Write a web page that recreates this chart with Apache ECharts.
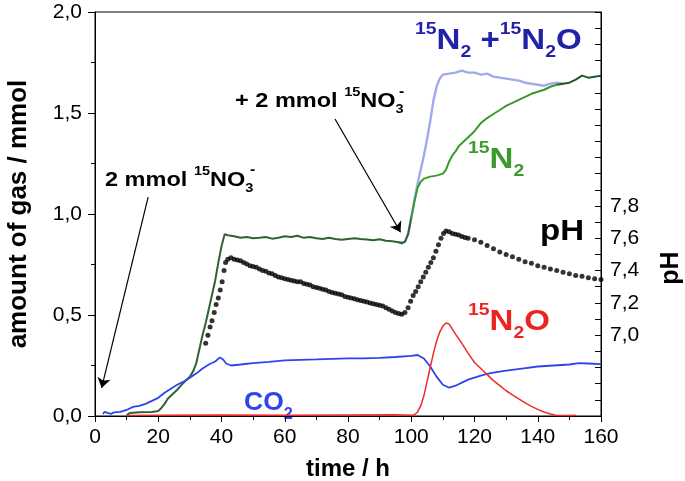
<!DOCTYPE html>
<html>
<head>
<meta charset="utf-8">
<script src="https://cdn.jsdelivr.net/npm/echarts@6/dist/echarts.min.js"></script>
<style>
  html, body { margin: 0; padding: 0; background: #fff; }
  #chart { width: 685px; height: 481px; }
</style>
</head>
<body>
<div id="chart"></div>
<script>
// 15N2 (h / mmol)
const n2Time = [10, 11, 14, 18, 20, 21, 22, 23, 24, 26,
  28, 30, 31, 32, 33, 34, 35, 36, 37, 38,
  39, 40, 41, 42, 44, 46, 48, 50, 52, 54,
  56, 58, 60, 62, 64, 66, 68, 70, 72, 74,
  76, 78, 80, 82, 84, 86, 88, 90, 92, 94,
  96, 97, 98, 99, 100, 101, 102, 103, 104, 105,
  106, 108, 110, 111, 112, 113, 114, 115, 116, 118,
  120, 122, 124, 126, 128, 130, 132, 134, 136, 138,
  140, 142, 144, 146, 148, 150, 152, 154, 156, 158,
  160];
const n2Values = [0.003, 0.015, 0.018, 0.02, 0.025, 0.04, 0.06, 0.085, 0.1, 0.13,
  0.165, 0.195, 0.22, 0.26, 0.33, 0.4, 0.46, 0.53, 0.6, 0.67,
  0.76, 0.84, 0.9, 0.895, 0.89, 0.882, 0.886, 0.88, 0.882, 0.886,
  0.878, 0.882, 0.89, 0.886, 0.892, 0.882, 0.886, 0.88, 0.876, 0.882,
  0.876, 0.872, 0.876, 0.88, 0.876, 0.874, 0.87, 0.875, 0.868, 0.865,
  0.86, 0.855, 0.862, 0.9, 0.98, 1.06, 1.13, 1.16, 1.175, 1.18,
  1.185, 1.19, 1.2, 1.22, 1.26, 1.29, 1.31, 1.335, 1.35, 1.38,
  1.41, 1.45, 1.475, 1.495, 1.515, 1.535, 1.55, 1.565, 1.58, 1.595,
  1.605, 1.615, 1.63, 1.64, 1.645, 1.65, 1.665, 1.685, 1.675, 1.68,
  1.685];

// 15N2 + 15N2O
const totalTime = [96, 98, 99, 100, 101, 102, 103, 104, 105, 106,
  107, 108, 109, 110, 112, 114, 116, 118, 120, 122,
  124, 126, 128, 130, 132, 134, 136, 138, 140, 142,
  144, 146, 148];
const totalValues = [0.86, 0.862, 0.9, 0.98, 1.07, 1.15, 1.22, 1.29, 1.37, 1.46,
  1.56, 1.63, 1.67, 1.69, 1.695, 1.70, 1.71, 1.70, 1.70, 1.69,
  1.695, 1.68, 1.675, 1.67, 1.665, 1.66, 1.65, 1.645, 1.64, 1.635,
  1.645, 1.65, 1.645];

// CO2
const co2Time = [2.5, 3, 4, 5, 6, 8, 10, 12, 14, 16,
  18, 20, 22, 24, 26, 28, 30, 32, 34, 36,
  38, 39.5, 40.5, 41.5, 43, 46, 50, 55, 60, 65,
  70, 75, 80, 85, 90, 95, 100, 102, 104, 106,
  108, 110, 112, 114, 116, 118, 120, 122, 124, 126,
  128, 130, 135, 140, 145, 150, 153, 156, 160];
const co2Values = [0.01, 0.02, 0.015, 0.01, 0.018, 0.02, 0.03, 0.045, 0.05, 0.06,
  0.075, 0.09, 0.115, 0.135, 0.155, 0.17, 0.19, 0.21, 0.235, 0.255,
  0.27, 0.29, 0.28, 0.26, 0.25, 0.255, 0.262, 0.268, 0.275, 0.278,
  0.28, 0.283, 0.285, 0.285, 0.288, 0.292, 0.298, 0.302, 0.285, 0.245,
  0.195, 0.155, 0.14, 0.15, 0.165, 0.18, 0.19, 0.2, 0.208, 0.215,
  0.22, 0.225, 0.235, 0.245, 0.25, 0.255, 0.262, 0.26, 0.257];

// 15N2O
const n2oTime = [10, 20, 40, 60, 80, 95, 100, 101, 102, 103,
  104, 105, 106, 107, 108, 109, 110, 111, 112, 113,
  114, 116, 118, 120, 122, 124, 126, 128, 130, 132,
  134, 136, 138, 140, 142, 144, 146, 150, 152];
const n2oValues = [0.003, 0.004, 0.005, 0.004, 0.005, 0.006, 0.004, 0.006, 0.02, 0.05,
  0.1, 0.17, 0.24, 0.31, 0.37, 0.415, 0.445, 0.46, 0.455, 0.43,
  0.405, 0.36, 0.31, 0.265, 0.235, 0.205, 0.175, 0.15, 0.125, 0.105,
  0.085, 0.065, 0.048, 0.033, 0.02, 0.01, 0.003, 0.003, 0.004];

// pH (right axis)
const phTime = [35, 35.7, 36.4, 37, 37.7, 38.3, 39, 39.6, 40.2, 40.8,
  41.3, 42, 43, 44, 45, 46, 47, 48, 49, 50,
  51, 52, 53, 54, 55, 56, 57, 58, 59, 60,
  61, 62, 63, 64, 65, 66, 67, 68, 69, 70,
  71, 72, 73, 74, 75, 76, 77, 78, 79, 80,
  81, 82, 83, 84, 85, 86, 87, 88, 89, 90,
  91, 92, 93, 94, 95, 96, 97, 98, 99, 99.8,
  100.6, 101.4, 102.2, 103, 103.8, 104.6, 105.4, 106.2, 107, 107.8,
  108.6, 109.4, 110.2, 111, 112, 113, 114, 115, 116, 117,
  118, 120, 122, 124, 126, 128, 130, 132, 134, 136,
  138, 140, 142, 144, 146, 148, 150, 152, 154, 156,
  158, 160];
const phValues = [6.95, 7.0, 7.05, 7.09, 7.14, 7.19, 7.23, 7.28, 7.33, 7.4,
  7.45, 7.47, 7.48, 7.47, 7.465, 7.46, 7.45, 7.44, 7.43, 7.425,
  7.42, 7.41, 7.40, 7.395, 7.385, 7.38, 7.37, 7.36, 7.355, 7.35,
  7.345, 7.34, 7.335, 7.33, 7.33, 7.32, 7.315, 7.31, 7.30, 7.295,
  7.29, 7.285, 7.28, 7.27, 7.265, 7.26, 7.255, 7.25, 7.24, 7.235,
  7.23, 7.225, 7.22, 7.215, 7.21, 7.205, 7.2, 7.195, 7.19, 7.185,
  7.18, 7.17, 7.16, 7.15, 7.14, 7.135, 7.13, 7.14, 7.17, 7.21,
  7.245, 7.27, 7.30, 7.33, 7.36, 7.39, 7.42, 7.45, 7.48, 7.52,
  7.56, 7.6, 7.63, 7.645, 7.64, 7.63, 7.625, 7.62, 7.61, 7.605,
  7.6, 7.59, 7.575, 7.555, 7.535, 7.515, 7.5, 7.485, 7.47, 7.455,
  7.445, 7.43, 7.42, 7.41, 7.40, 7.39, 7.38, 7.37, 7.365, 7.355,
  7.35, 7.345];

// nitrate additions: arrow start / end (h, mmol)
const arrowFrom = [[16.8, 1.084], [75.9, 1.47]];
const arrowTo = [[2.1, 0.139], [96.6, 0.91]];

const FONT = '"Liberation Sans", Arial, sans-serif';
const zip = (xs, ys) => xs.map((t, i) => [t, ys[i]]);
const comma = (v, d) => v.toFixed(d).replace('.', ',');

// rich styles for sub/superscripts
const bigRich = (color, size) => ({
  m: { fontSize: size || 29, fontWeight: 'bold', fontFamily: FONT, fill: color, lineHeight: 40, verticalAlign: 'middle' },
  sup: { fontSize: 17, fontWeight: 'bold', fontFamily: FONT, fill: color, lineHeight: 22, verticalAlign: 'top' },
  sub: { fontSize: size ? 16 : 17, fontWeight: 'bold', fontFamily: FONT, fill: color, lineHeight: 16, verticalAlign: 'bottom' },
});
const smallRich = {
  m: { fontSize: 21, fontWeight: 'bold', fontFamily: FONT, fill: '#000', lineHeight: 30, verticalAlign: 'middle' },
  sup: { fontSize: 13, fontWeight: 'bold', fontFamily: FONT, fill: '#000', lineHeight: 16, verticalAlign: 'top' },
  sub: { fontSize: 13, fontWeight: 'bold', fontFamily: FONT, fill: '#000', lineHeight: 12, verticalAlign: 'bottom' },
};
const label = (x, y, text, rich, sx) => ({
  type: 'text', x: x, y: y, scaleX: sx || 1.12, silent: true,
  style: { text: text, rich: rich, align: 'left', verticalAlign: 'top' },
});
const minus = (x, y) => ({
  type: 'text', x: x, y: y, scaleX: 1.12, silent: true,
  style: { text: '-', fontSize: 14, fontWeight: 'bold', fontFamily: FONT, fill: '#000', align: 'left', verticalAlign: 'middle' },
});

const option = {
  animation: false,
  textStyle: { fontFamily: FONT },
  grid: {
    left: 95, right: 84, top: 12, bottom: 65,
    outerBoundsMode: 'none', containLabel: false,
    show: true, borderColor: '#000', borderWidth: 1,
  },
  visualMap: {
    type: 'piecewise', show: false, seriesIndex: 1, dimension: 0,
    pieces: [
      { lt: 100, color: '#2f6232' },
      { gte: 100, lt: 146, color: '#3b9a2d' },
      { gte: 146, color: '#23552a' },
    ],
  },
  xAxis: {
    type: 'value', min: 0, max: 160, interval: 20,
    axisLine: { show: true, lineStyle: { color: '#000', width: 1 } },
    axisTick: { show: true, length: 6, lineStyle: { color: '#000' } },
    minorTick: { show: true, splitNumber: 2, length: 4, lineStyle: { color: '#000' } },
    splitLine: { show: false },
    axisLabel: { color: '#000', fontSize: 21, margin: 11 },
    name: 'time / h', nameLocation: 'middle', nameGap: 41,
    nameTextStyle: { color: '#000', fontSize: 24, fontWeight: 'bold' },
  },
  yAxis: [
    {
      type: 'value', min: 0, max: 2, interval: 0.5,
      axisLine: { show: true, lineStyle: { color: '#000', width: 1 } },
      axisTick: { show: true, length: 7, lineStyle: { color: '#000' } },
      minorTick: { show: true, splitNumber: 2, length: 4, lineStyle: { color: '#000' } },
      splitLine: { show: false },
      axisLabel: { color: '#000', fontSize: 21, margin: 13, formatter: (v) => comma(v, 1) },
      name: 'amount of gas / mmol', nameLocation: 'middle', nameGap: 63, nameRotate: 90,
      nameTextStyle: { color: '#000', fontSize: 26, fontWeight: 'bold' },
    },
    {
      type: 'value', position: 'right', min: 6.5, max: 9.0, interval: 0.1,
      axisLine: { show: true, lineStyle: { color: '#000', width: 1 } },
      axisTick: { show: true, inside: true, length: 6, lineStyle: { color: '#000' } },
      splitLine: { show: false },
      axisLabel: {
        color: '#000', fontSize: 21, margin: 9,
        formatter: (v) => {
          const t = Math.round(v * 10);
          return (t >= 70 && t <= 78 && t % 2 === 0) ? comma(t / 10, 1) : '';
        },
      },
      name: 'pH', nameLocation: 'middle', nameGap: 58, nameRotate: 90,
      nameTextStyle: { color: '#000', fontSize: 25, fontWeight: 'bold', padding: [0, 108, 0, 0] },
    },
  ],
  series: [
    {
      name: '15N2 + 15N2O', type: 'line', data: zip(totalTime, totalValues),
      showSymbol: false, lineStyle: { color: '#a3a9ec', width: 2.4 },
    },
    {
      name: '15N2', type: 'line', data: zip(n2Time, n2Values),
      showSymbol: false, lineStyle: { width: 2 },
    },
    {
      name: 'CO2', type: 'line', data: zip(co2Time, co2Values),
      showSymbol: false, lineStyle: { color: '#2e45ee', width: 1.8 },
      markLine: {
        silent: true, symbol: ['none', 'arrow'], symbolSize: 10,
        label: { show: false },
        lineStyle: { color: '#000', width: 1.2, type: 'solid' },
        data: arrowFrom.map((p, i) => [{ coord: p }, { coord: arrowTo[i] }]),
      },
    },
    {
      name: '15N2O', type: 'line', data: zip(n2oTime, n2oValues),
      showSymbol: false, lineStyle: { color: '#ef2b2b', width: 1.5 },
    },
    {
      name: 'pH', type: 'scatter', yAxisIndex: 1, data: zip(phTime, phValues),
      symbolSize: 5, itemStyle: { color: '#000' },
    },
  ],
  graphic: [
    label(415, 21, '{sup|15}{m|N}{sub|2}{m| +}{sup|15}{m|N}{sub|2}{m|O}', bigRich('#2222a8'), 1.14),
    label(468, 140, '{sup|15}{m|N}{sub|2}', bigRich('#3b9a2d'), 1.14),
    label(540, 212, '{m|pH}', bigRich('#000'), 1.14),
    label(468, 302, '{sup|15}{m|N}{sub|2}{m|O}', bigRich('#ef2222'), 1.14),
    label(244, 383, '{m|CO}{sub|2}', bigRich('#2e45ee', 26), 1.02),
    label(105, 165, '{m|2 mmol }{sup|15}{m|NO}{sub|3}', smallRich),
    label(235, 86, '{m|+ 2 mmol }{sup|15}{m|NO}{sub|3}', smallRich),
    minus(250, 170),
    minus(399, 92),
  ],
};

const chart = echarts.init(document.getElementById('chart'));
chart.setOption(option);
</script>
</body>
</html>
